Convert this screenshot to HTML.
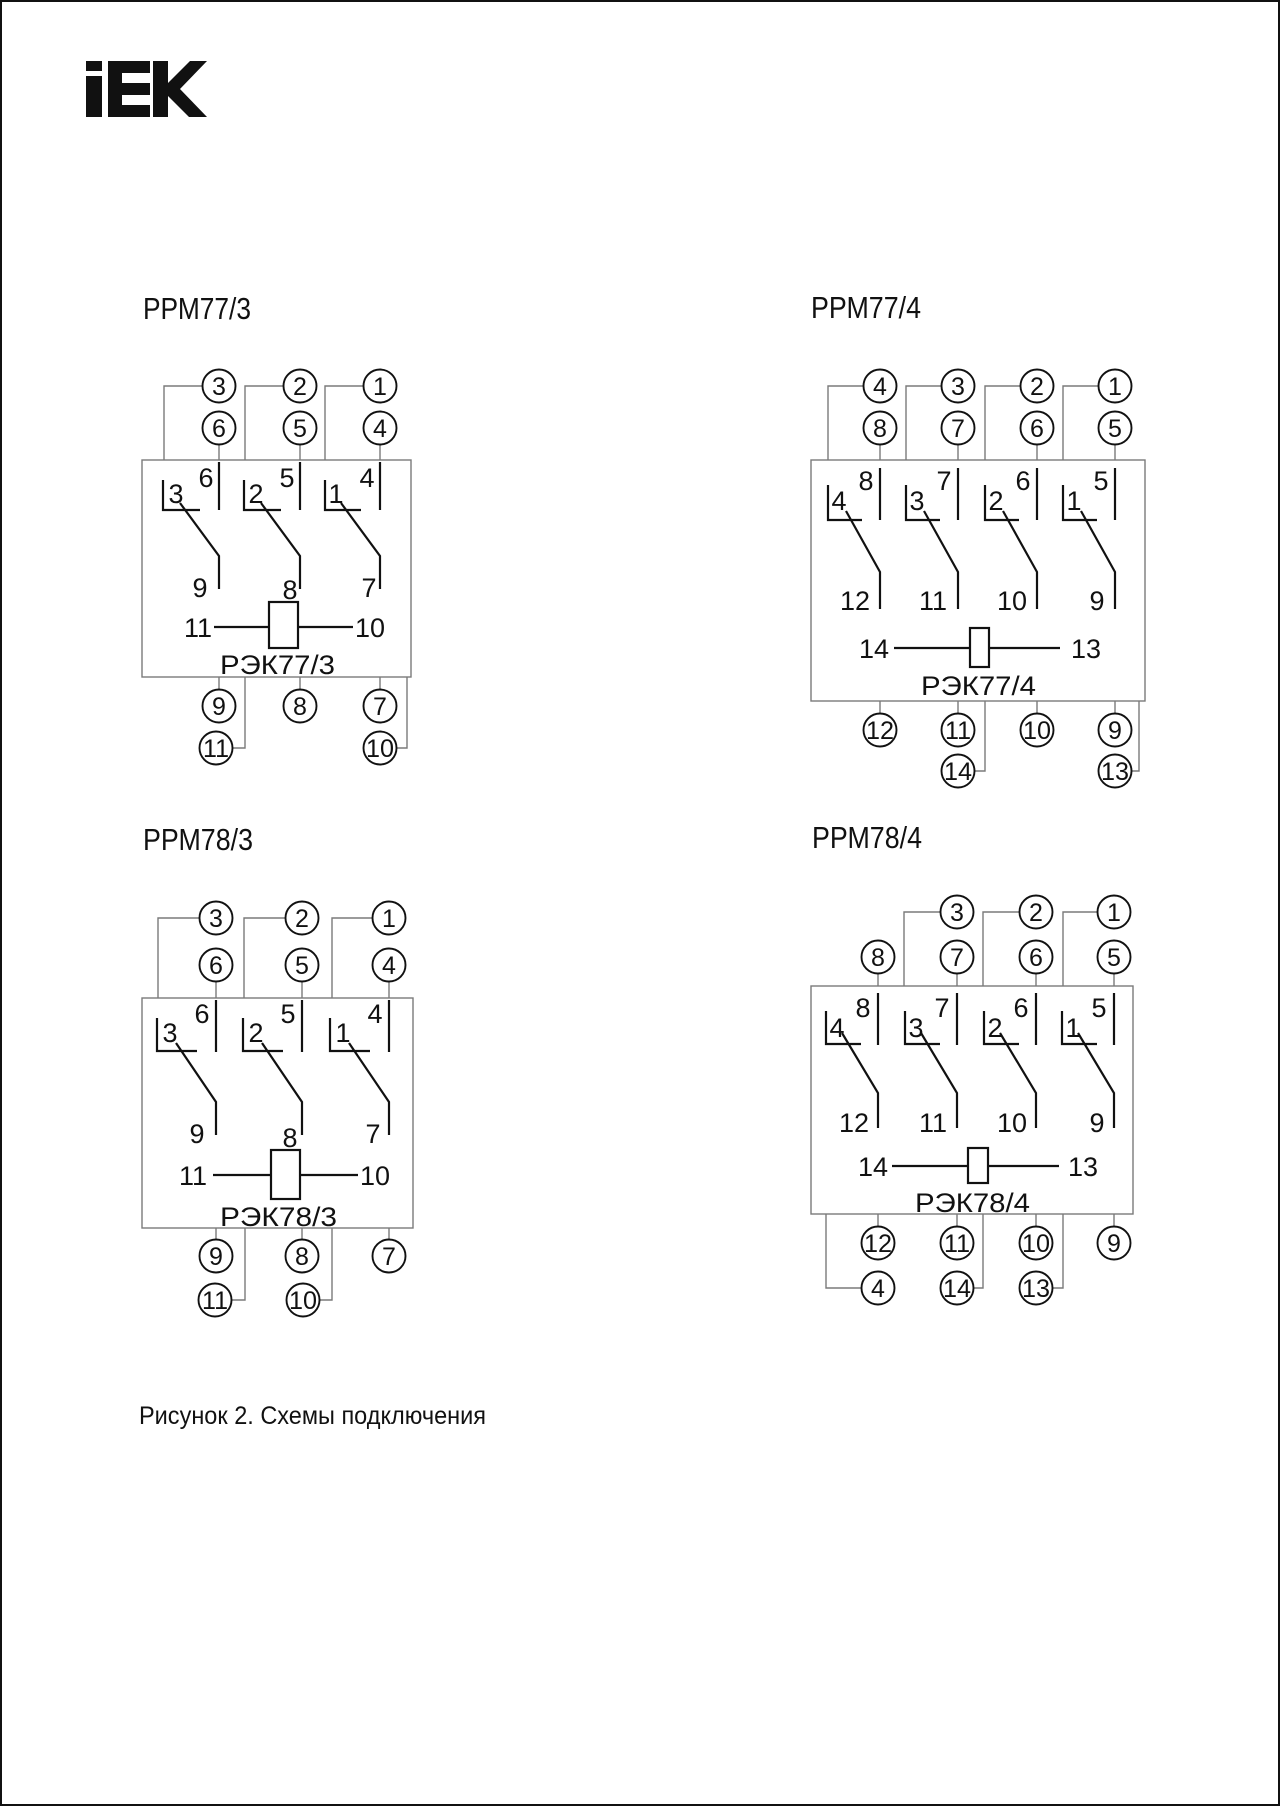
<!DOCTYPE html>
<html><head><meta charset="utf-8"><style>
html,body{margin:0;padding:0;background:#fff}
svg{display:block}
text{font-family:"Liberation Sans",sans-serif;fill:#111}
.g{fill:none;stroke:#7a7a7a;stroke-width:1.4}
.k{fill:none;stroke:#111;stroke-width:2.2}
.c{fill:#fff;stroke:#111;stroke-width:1.9}
.n{font-size:25px;text-anchor:middle}
.l{font-size:27px;text-anchor:middle}
</style></head><body>
<svg width="1280" height="1806" viewBox="0 0 1280 1806" xmlns="http://www.w3.org/2000/svg">
<rect x="1" y="1" width="1278" height="1804" fill="none" stroke="#111" stroke-width="2"/>
<g fill="#111">
<rect x="86" y="61" width="16" height="10"/>
<rect x="86" y="76" width="16" height="41"/>
<rect x="108" y="61" width="42" height="12"/>
<rect x="108" y="83" width="42" height="12"/>
<rect x="108" y="105" width="42" height="12"/>
<rect x="108" y="61" width="14" height="56"/>
<rect x="153" y="61" width="15" height="56"/>
<polygon points="166,85 190,61 207,61 180,89 207,117 189,117 166,94"/>
</g>

<!-- ===== PPM77/3 ===== -->
<text x="143" y="319" font-size="31" textLength="108" lengthAdjust="spacingAndGlyphs">РРМ77/3</text>
<rect class="g" x="142" y="460" width="269" height="217"/>
<path class="g" d="M203,386H164V460 M284,386H245V460 M364,386H325V460 M219,444V460 M300,444V460 M380,444V460"/>
<path class="k" d="M219,462V510 M300,462V510 M380,462V510 M163,480V510H200 M244,480V510H281 M325,480V510H361 M180,503L219,556V589 M261,503L300,556V589 M341,503L380,556V589"/>
<text class="l" x="206" y="487">6</text><text class="l" x="287" y="487">5</text><text class="l" x="367" y="487">4</text>
<text class="l" x="176" y="503">3</text><text class="l" x="256" y="503">2</text><text class="l" x="336" y="503">1</text>
<text class="l" x="200" y="597">9</text><text class="l" x="290" y="599">8</text><text class="l" x="369" y="597">7</text>
<rect x="269" y="602" width="29" height="46" fill="#fff" stroke="#111" stroke-width="2.2"/>
<path class="k" d="M214,627H269 M298,627H353"/>
<text x="212" y="637" font-size="27" text-anchor="end">11</text><text x="355" y="637" font-size="27">10</text>
<text x="220" y="674" font-size="27" textLength="115" lengthAdjust="spacingAndGlyphs">РЭК77/3</text>
<path class="g" d="M219,677V690 M300,677V690 M380,677V690 M245,677V748H232 M407,677V748H396"/>
<circle class="c" cx="219" cy="386" r="16.5"/><circle class="c" cx="300" cy="386" r="16.5"/><circle class="c" cx="380" cy="386" r="16.5"/>
<circle class="c" cx="219" cy="428" r="16.5"/><circle class="c" cx="300" cy="428" r="16.5"/><circle class="c" cx="380" cy="428" r="16.5"/>
<circle class="c" cx="219" cy="706" r="16.5"/><circle class="c" cx="300" cy="706" r="16.5"/><circle class="c" cx="380" cy="706" r="16.5"/>
<circle class="c" cx="216" cy="748" r="16.5"/><circle class="c" cx="380" cy="748" r="16.5"/>
<text class="n" x="219" y="395">3</text><text class="n" x="300" y="395">2</text><text class="n" x="380" y="395">1</text>
<text class="n" x="219" y="437">6</text><text class="n" x="300" y="437">5</text><text class="n" x="380" y="437">4</text>
<text class="n" x="219" y="715">9</text><text class="n" x="300" y="715">8</text><text class="n" x="380" y="715">7</text>
<text class="n" x="216" y="757" textLength="26" lengthAdjust="spacingAndGlyphs">11</text><text class="n" x="380" y="757" textLength="28" lengthAdjust="spacingAndGlyphs">10</text>

<!-- ===== PPM77/4 ===== -->
<text x="811" y="318" font-size="31" textLength="110" lengthAdjust="spacingAndGlyphs">РРМ77/4</text>
<rect class="g" x="811" y="460" width="334" height="241"/>
<path class="g" d="M863,386H828V460 M941,386H906V460 M1020,386H985V460 M1098,386H1063V460 M880,444V460 M958,444V460 M1037,444V460 M1115,444V460"/>
<path class="k" d="M880,468V520 M958,468V520 M1037,468V520 M1115,468V520
M828,485V520H862 M906,485V520H940 M985,485V520H1019 M1063,485V520H1097
M846,511L880,572V609 M924,511L958,572V609 M1003,511L1037,572V609 M1081,511L1115,572V609"/>
<text class="l" x="866" y="490">8</text><text class="l" x="944" y="490">7</text><text class="l" x="1023" y="490">6</text><text class="l" x="1101" y="490">5</text>
<text class="l" x="839" y="510">4</text><text class="l" x="917" y="510">3</text><text class="l" x="996" y="510">2</text><text class="l" x="1074" y="510">1</text>
<text class="l" x="855" y="610">12</text><text class="l" x="933" y="610">11</text><text class="l" x="1012" y="610">10</text><text class="l" x="1097" y="610">9</text>
<rect x="970" y="628" width="19" height="39" fill="#fff" stroke="#111" stroke-width="2.2"/>
<path class="k" d="M894,648H970 M989,648H1060"/>
<text x="889" y="658" font-size="27" text-anchor="end">14</text><text x="1071" y="658" font-size="27">13</text>
<text x="921" y="695" font-size="27" textLength="115" lengthAdjust="spacingAndGlyphs">РЭК77/4</text>
<path class="g" d="M880,701V714 M958,701V714 M1037,701V714 M1115,701V714 M985,701V771H974 M1139,701V771H1131"/>
<circle class="c" cx="880" cy="386" r="16.5"/><circle class="c" cx="958" cy="386" r="16.5"/><circle class="c" cx="1037" cy="386" r="16.5"/><circle class="c" cx="1115" cy="386" r="16.5"/>
<circle class="c" cx="880" cy="428" r="16.5"/><circle class="c" cx="958" cy="428" r="16.5"/><circle class="c" cx="1037" cy="428" r="16.5"/><circle class="c" cx="1115" cy="428" r="16.5"/>
<circle class="c" cx="880" cy="730" r="16.5"/><circle class="c" cx="958" cy="730" r="16.5"/><circle class="c" cx="1037" cy="730" r="16.5"/><circle class="c" cx="1115" cy="730" r="16.5"/>
<circle class="c" cx="958" cy="771" r="16.5"/><circle class="c" cx="1115" cy="771" r="16.5"/>
<text class="n" x="880" y="395">4</text><text class="n" x="958" y="395">3</text><text class="n" x="1037" y="395">2</text><text class="n" x="1115" y="395">1</text>
<text class="n" x="880" y="437">8</text><text class="n" x="958" y="437">7</text><text class="n" x="1037" y="437">6</text><text class="n" x="1115" y="437">5</text>
<text class="n" x="880" y="739" textLength="28" lengthAdjust="spacingAndGlyphs">12</text><text class="n" x="958" y="739" textLength="26" lengthAdjust="spacingAndGlyphs">11</text><text class="n" x="1037" y="739" textLength="28" lengthAdjust="spacingAndGlyphs">10</text><text class="n" x="1115" y="739">9</text>
<text class="n" x="958" y="780" textLength="28" lengthAdjust="spacingAndGlyphs">14</text><text class="n" x="1115" y="780" textLength="28" lengthAdjust="spacingAndGlyphs">13</text>

<!-- ===== PPM78/3 ===== -->
<text x="143" y="850" font-size="31" textLength="110" lengthAdjust="spacingAndGlyphs">РРМ78/3</text>
<rect class="g" x="142" y="998" width="271" height="230"/>
<path class="g" d="M199,918H158V998 M285,918H244V998 M372,918H332V998 M216,982V998 M302,982V998 M389,982V998"/>
<path class="k" d="M216,1000V1052 M302,1000V1052 M389,1000V1052
M157,1018V1051H197 M243,1018V1051H283 M330,1018V1051H370
M176,1043L216,1102V1135 M262,1043L302,1102V1135 M349,1043L389,1102V1135"/>
<text class="l" x="202" y="1023">6</text><text class="l" x="288" y="1023">5</text><text class="l" x="375" y="1023">4</text>
<text class="l" x="170" y="1042">3</text><text class="l" x="256" y="1042">2</text><text class="l" x="343" y="1042">1</text>
<text class="l" x="197" y="1143">9</text><text class="l" x="290" y="1147">8</text><text class="l" x="373" y="1143">7</text>
<rect x="271" y="1150" width="29" height="49" fill="#fff" stroke="#111" stroke-width="2.2"/>
<path class="k" d="M213,1175H271 M300,1175H358"/>
<text x="207" y="1185" font-size="27" text-anchor="end">11</text><text x="360" y="1185" font-size="27">10</text>
<text x="220" y="1226" font-size="27" textLength="117" lengthAdjust="spacingAndGlyphs">РЭК78/3</text>
<path class="g" d="M216,1228V1240 M302,1228V1240 M389,1228V1240 M245,1228V1300H231 M332,1228V1300H319"/>
<circle class="c" cx="216" cy="918" r="16.5"/><circle class="c" cx="302" cy="918" r="16.5"/><circle class="c" cx="389" cy="918" r="16.5"/>
<circle class="c" cx="216" cy="965" r="16.5"/><circle class="c" cx="302" cy="965" r="16.5"/><circle class="c" cx="389" cy="965" r="16.5"/>
<circle class="c" cx="216" cy="1256" r="16.5"/><circle class="c" cx="302" cy="1256" r="16.5"/><circle class="c" cx="389" cy="1256" r="16.5"/>
<circle class="c" cx="215" cy="1300" r="16.5"/><circle class="c" cx="303" cy="1300" r="16.5"/>
<text class="n" x="216" y="927">3</text><text class="n" x="302" y="927">2</text><text class="n" x="389" y="927">1</text>
<text class="n" x="216" y="974">6</text><text class="n" x="302" y="974">5</text><text class="n" x="389" y="974">4</text>
<text class="n" x="216" y="1265">9</text><text class="n" x="302" y="1265">8</text><text class="n" x="389" y="1265">7</text>
<text class="n" x="215" y="1309" textLength="26" lengthAdjust="spacingAndGlyphs">11</text><text class="n" x="303" y="1309" textLength="28" lengthAdjust="spacingAndGlyphs">10</text>

<!-- ===== PPM78/4 ===== -->
<text x="812" y="848" font-size="31" textLength="110" lengthAdjust="spacingAndGlyphs">РРМ78/4</text>
<rect class="g" x="811" y="986" width="322" height="228"/>
<path class="g" d="M940,912H904V986 M1019,912H983V986 M1097,912H1063V986 M878,973V986 M957,973V986 M1036,973V986 M1114,973V986"/>
<path class="k" d="M878,993V1045 M957,993V1045 M1036,993V1045 M1114,993V1045
M826,1011V1044H861 M905,1011V1044H940 M984,1011V1044H1019 M1062,1011V1044H1097
M842,1033L878,1093V1128 M921,1033L957,1093V1128 M1000,1033L1036,1093V1128 M1078,1033L1114,1093V1128"/>
<text class="l" x="863" y="1017">8</text><text class="l" x="942" y="1017">7</text><text class="l" x="1021" y="1017">6</text><text class="l" x="1099" y="1017">5</text>
<text class="l" x="837" y="1037">4</text><text class="l" x="916" y="1037">3</text><text class="l" x="995" y="1037">2</text><text class="l" x="1073" y="1037">1</text>
<text class="l" x="854" y="1132">12</text><text class="l" x="933" y="1132">11</text><text class="l" x="1012" y="1132">10</text><text class="l" x="1097" y="1132">9</text>
<rect x="968" y="1148" width="20" height="35" fill="#fff" stroke="#111" stroke-width="2.2"/>
<path class="k" d="M892,1166H968 M988,1166H1059"/>
<text x="888" y="1176" font-size="27" text-anchor="end">14</text><text x="1068" y="1176" font-size="27">13</text>
<text x="915" y="1212" font-size="27" textLength="115" lengthAdjust="spacingAndGlyphs">РЭК78/4</text>
<path class="g" d="M878,1214V1227 M957,1214V1227 M1036,1214V1227 M1114,1214V1227 M826,1214V1288H862 M983,1214V1288H973 M1063,1214V1288H1052"/>
<circle class="c" cx="957" cy="912" r="16.5"/><circle class="c" cx="1036" cy="912" r="16.5"/><circle class="c" cx="1114" cy="912" r="16.5"/>
<circle class="c" cx="878" cy="957" r="16.5"/><circle class="c" cx="957" cy="957" r="16.5"/><circle class="c" cx="1036" cy="957" r="16.5"/><circle class="c" cx="1114" cy="957" r="16.5"/>
<circle class="c" cx="878" cy="1243" r="16.5"/><circle class="c" cx="957" cy="1243" r="16.5"/><circle class="c" cx="1036" cy="1243" r="16.5"/><circle class="c" cx="1114" cy="1243" r="16.5"/>
<circle class="c" cx="878" cy="1288" r="16.5"/><circle class="c" cx="957" cy="1288" r="16.5"/><circle class="c" cx="1036" cy="1288" r="16.5"/>
<text class="n" x="957" y="921">3</text><text class="n" x="1036" y="921">2</text><text class="n" x="1114" y="921">1</text>
<text class="n" x="878" y="966">8</text><text class="n" x="957" y="966">7</text><text class="n" x="1036" y="966">6</text><text class="n" x="1114" y="966">5</text>
<text class="n" x="878" y="1252" textLength="28" lengthAdjust="spacingAndGlyphs">12</text><text class="n" x="957" y="1252" textLength="26" lengthAdjust="spacingAndGlyphs">11</text><text class="n" x="1036" y="1252" textLength="28" lengthAdjust="spacingAndGlyphs">10</text><text class="n" x="1114" y="1252">9</text>
<text class="n" x="878" y="1297">4</text><text class="n" x="957" y="1297" textLength="28" lengthAdjust="spacingAndGlyphs">14</text><text class="n" x="1036" y="1297" textLength="28" lengthAdjust="spacingAndGlyphs">13</text>

<text x="139" y="1424" font-size="25" textLength="347" lengthAdjust="spacingAndGlyphs">Рисунок 2. Схемы подключения</text>
</svg>
</body></html>
